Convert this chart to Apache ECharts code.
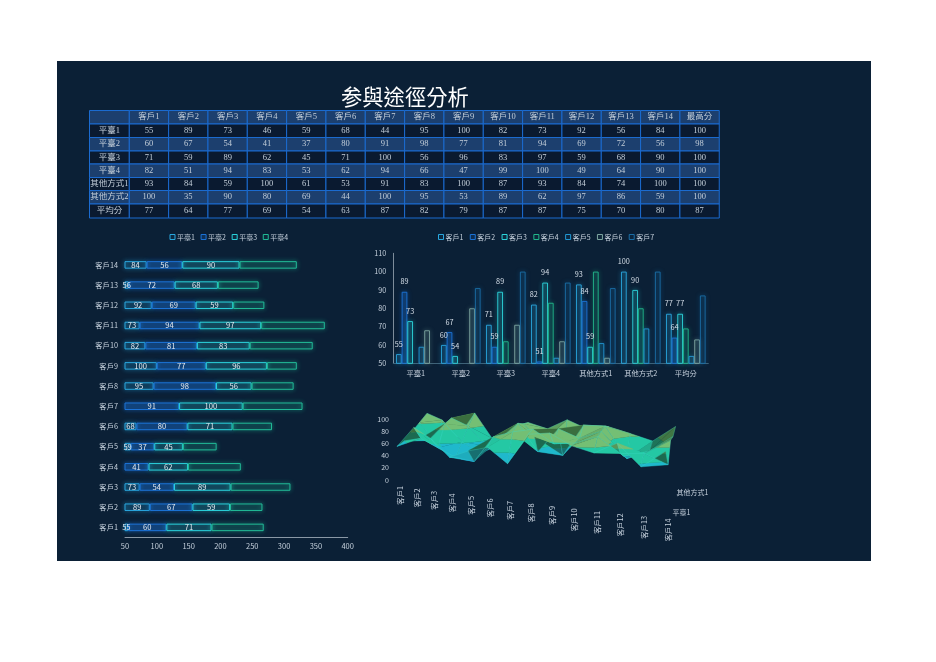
<!DOCTYPE html>
<html><head><meta charset="utf-8"><style>html,body{margin:0;background:#fff}#c{width:936px;height:662px}</style>
<script src="https://cdn.jsdelivr.net/npm/echarts@6/dist/echarts.min.js"></script></head>
<body><div id="c"></div><script>
const titleText='参與途徑分析';
const customers=['客戶1','客戶2','客戶3','客戶4','客戶5','客戶6','客戶7','客戶8','客戶9','客戶10','客戶11','客戶12','客戶13','客戶14'];
const rowNames=['平臺1','平臺2','平臺3','平臺4','其他方式1','其他方式2','平均分'];
const maxHeader='最高分';
const platform1=[55,89,73,46,59,68,44,95,100,82,73,92,56,84,100];
const platform2=[60,67,54,41,37,80,91,98,77,81,94,69,72,56,98];
const platform3=[71,59,89,62,45,71,100,56,96,83,97,59,68,90,100];
const platform4=[82,51,94,83,53,62,94,66,47,99,100,49,64,90,100];
const other1=[93,84,59,100,61,53,91,83,100,87,93,84,74,100,100];
const other2=[100,35,90,80,69,44,100,95,53,89,62,97,86,59,100];
const average=[77,64,77,69,54,63,87,82,79,87,87,75,70,80,87];
const xTicksLeft=[50,400,50];
const yTicksRight=[50,110,10];
const rows=[platform1,platform2,platform3,platform4,other1,other2,average];

const SANS='"Noto Sans CJK TC","Noto Sans",sans-serif', SERIF='"Liberation Serif","Noto Sans CJK TC",serif';
const TXT='#c5d0dc', BG='#0b2036';
const stackColors=['#2aa8e0','#1c74d8','#2bd2dc','#22bc98'];
const colColors=['#2aa8e0','#1c74d8','#2ed6dc','#23b98c','#2299d6','#7fa8a2','#1b6fa8'];
function fillOf(c,a){const p=echarts.color.parse(c);return `rgba(${p[0]},${p[1]},${p[2]},${a})`}

/* table */
const g=[];
g.push({type:'rect',z:0,shape:{x:57,y:61,width:814,height:500},style:{fill:BG},silent:true});
const T={x0:89.5,col0:39.8,col:39.33,ys:[110.5,124,137.5,151,164,177.5,190.5,204,218]};
const header=['',...customers,maxHeader];
const colX=c=>c===0?T.x0:T.x0+T.col0+(c-1)*T.col;
const colW=c=>c===0?T.col0:T.col;
for(let r=0;r<8;r++){
  const y=T.ys[r],h=T.ys[r+1]-y,light=r%2===0;
  for(let c=0;c<16;c++){
    g.push({type:'rect',z:1,shape:{x:colX(c),y,width:colW(c),height:h},style:{fill:light?'#1c3f6e':'#0a1a30',stroke:'#1b6bd0',lineWidth:1},silent:true});
    const t=r===0?header[c]:(c===0?rowNames[r-1]:String(rows[r-1][c-1]));
    g.push({type:'text',z:2,silent:true,style:{x:colX(c)+colW(c)/2,y:y+h/2,text:t,align:'center',verticalAlign:'middle',fill:'#c3ced9',font:`8.5px ${SERIF}`}});
  }
}

/* surface projection: customer index i, row r, value v -> plan units of the hidden axes */
const surfRows=rows.slice(0,5);
const PY=0.61;
function proj(i,r,v){
  const fx=16.5*i+0.32*i*i, d=r/4;
  const x=fx+d*(30-1.54*i);
  const dyPx=1.75*i-d*(10+0.4*i);
  return [x, v-dyPx/PY];
}
const bands=[[0,20],[20,40],[40,60],[60,80],[80,100]];
const bandFront=['#1b86c8','#1a9fd0','#1fb8cc','#24c8a4','#74bf74'];
const bandBack=['#10506a','#12607a','#176f70','#1c6a50','#3a6e3e'];
function clipBand(tri,lo,hi){
  let poly=tri;
  [[lo,1],[hi,-1]].forEach(([lim,s])=>{
    const out=[];
    for(let k=0;k<poly.length;k++){
      const a=poly[k],b=poly[(k+1)%poly.length];
      const ia=(a[2]-lim)*s>=0, ib=(b[2]-lim)*s>=0;
      if(ia)out.push(a);
      if(ia!==ib){const t=(lim-a[2])/(b[2]-a[2]);out.push([a[0]+t*(b[0]-a[0]),a[1]+t*(b[1]-a[1]),lim]);}
    }
    poly=out;
  });
  return poly;
}
function surfaceItem(params,api){
  const i=api.value(0),r=api.value(1);
  const P=(ii,rr)=>{const v=surfRows[rr][ii],q=proj(ii,rr,v),c=api.coord([q[0],q[1]]);return [c[0],c[1],v];};
  const a=P(i,r),b=P(i+1,r),c=P(i+1,r+1),d=P(i,r+1);
  const children=[];
  [[[a,b,c],b[2]-a[2]],[[a,c,d],c[2]-d[2]]].forEach(([tri,slope])=>{
    const t=Math.max(0,Math.min(1,(slope-10)/18));
    bands.forEach(([lo,hi],k)=>{
      const poly=clipBand(tri,lo,hi);
      if(poly.length<3)return;
      const col=echarts.color.lerp(t,[bandFront[k],bandBack[k]]);
      children.push({type:'polygon',shape:{points:poly.map(p=>[p[0],p[1]])},style:{fill:col,stroke:col,lineWidth:0.3},silent:true});
    });
  });
  children.push({type:'polygon',shape:{points:[a,b,c,d].map(p=>[p[0],p[1]])},style:{fill:'none',stroke:'#3edccb',lineWidth:0.5,opacity:0.55},silent:true});
  return {type:'group',children};
}
const cells=[];
for(let r=3;r>=0;r--)for(let i=0;i<13;i++)cells.push([i,r]);
function catLabelItem(params,api){
  const i=api.value(0),q=proj(i,0,0),c=api.coord([q[0],q[1]]);
  return {type:'text',silent:true,x:c[0]+3,y:c[1]+6+0.75*i,rotation:Math.PI/2,style:{x:0,y:0,text:customers[i],align:'right',verticalAlign:'middle',fill:TXT,font:`7.3px ${SANS}`}};
}
function rowLabelItem(params,api){
  const r=api.value(0),q=proj(13,r,0),c=api.coord([q[0],q[1]]);
  return {type:'text',silent:true,x:c[0]+7-1.5*r,y:c[1]+9.7-1.25*r,style:{x:0,y:0,text:rowNames[r],align:'left',verticalAlign:'middle',fill:TXT,font:`7px ${SANS}`}};
}

/* series */
const series=[];
[platform1,platform2,platform3,platform4].forEach((arr,k)=>{
  series.push({type:'bar',name:rowNames[k],xAxisIndex:0,yAxisIndex:0,stack:'s',barWidth:7.5,
    data:arr.slice(0,14),
    itemStyle:{color:fillOf(stackColors[k],k===1?0.2:0.06),borderColor:stackColors[k],borderWidth:1,shadowBlur:4,shadowColor:stackColors[k]},
    label:{show:k<3,position:'inside',color:'#e3e9f0',fontSize:7.6,fontFamily:SANS},silent:true});
});
customers.slice(0,7).forEach((name,k)=>{
  series.push({type:'bar',name,xAxisIndex:1,yAxisIndex:1,barWidth:5.65,barGap:'0%',
    data:rows.map(row=>row[k]),
    itemStyle:{color:fillOf(colColors[k],k===1?0.16:0.05),borderColor:colColors[k],borderWidth:0.9,shadowBlur:4,shadowColor:fillOf(colColors[k],0.8)},
    label:{show:k<3,position:'top',distance:6.5,color:'#d5dee8',fontSize:7.3,fontFamily:SANS},silent:true});
});
series.push({type:'custom',xAxisIndex:2,yAxisIndex:2,renderItem:surfaceItem,data:cells,silent:true,clip:false});
series.push({type:'custom',xAxisIndex:2,yAxisIndex:2,renderItem:catLabelItem,data:customers.map((c,i)=>[i]),encode:{x:0},silent:true,clip:false});
series.push({type:'custom',xAxisIndex:2,yAxisIndex:2,renderItem:rowLabelItem,data:[[0],[4]],encode:{x:0},silent:true,clip:false});

const legendCommon={orient:'horizontal',itemWidth:5,itemHeight:5,icon:'rect',itemStyle:{borderWidth:1},textStyle:{color:TXT,fontSize:7,fontFamily:SANS,padding:[0,0,0,-3]},selectedMode:false};
const option={
  animation:false,backgroundColor:'#fff',
  title:{text:titleText,left:336,top:81,textStyle:{color:'#fff',fontSize:21.3,fontWeight:400,fontFamily:SANS}},
  graphic:{elements:g},
  legend:[
    {...legendCommon,data:rowNames.slice(0,4),left:164.5,top:228.5,itemGap:5.7},
    {...legendCommon,data:customers.slice(0,7),left:433,top:228.5,itemGap:6.4}
  ],
  grid:[
    {left:125,top:254.8,width:222.7,height:282.7},
    {left:393.3,top:253.3,width:315,height:110},
    {left:397,top:419,width:268,height:61}
  ],
  xAxis:[
    {gridIndex:0,type:'value',min:xTicksLeft[0],max:xTicksLeft[1],interval:xTicksLeft[2],splitLine:{show:false},axisTick:{show:false},axisLine:{show:true,lineStyle:{color:'#8a98a6',width:1}},axisLabel:{color:TXT,fontSize:7.5,fontFamily:SANS,margin:5,showMinLabel:true,showMaxLabel:true}},
    {gridIndex:1,type:'category',data:rowNames,axisTick:{show:false},axisLine:{show:true,lineStyle:{color:'#3f6278'}},axisLabel:{color:TXT,fontSize:7.3,fontFamily:SANS,margin:6,interval:0}},
    {gridIndex:2,type:'value',min:0,max:268,show:false}
  ],
  yAxis:[
    {gridIndex:0,type:'category',data:customers,axisTick:{show:false},axisLine:{show:false},axisLabel:{color:TXT,fontSize:7.3,fontFamily:SANS,margin:7,interval:0}},
    {gridIndex:1,type:'value',min:yTicksRight[0],max:yTicksRight[1],interval:yTicksRight[2],splitLine:{show:false},axisTick:{show:false},axisLine:{show:true,lineStyle:{color:'#7d8c9a'}},axisLabel:{color:TXT,fontSize:7.2,fontFamily:SANS,margin:7}},
    {gridIndex:2,type:'value',min:0,max:100,interval:20,splitLine:{show:false},axisTick:{show:false},axisLine:{show:false},axisLabel:{color:TXT,fontSize:7,fontFamily:SANS,margin:8}}
  ],
  series
};
const chart=echarts.init(document.getElementById('c'),null,{renderer:'canvas'});
chart.setOption(option);
</script></body></html>
